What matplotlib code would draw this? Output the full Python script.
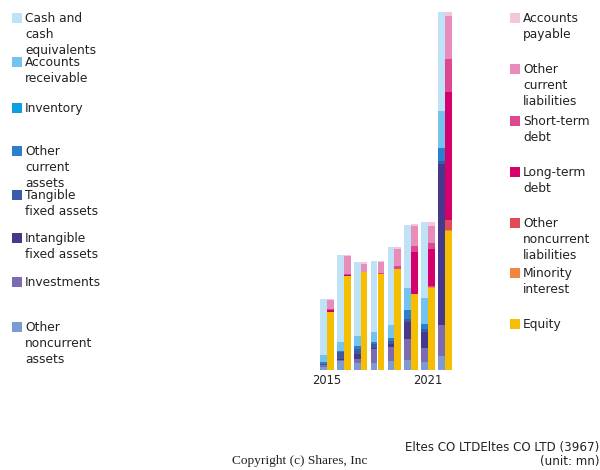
import matplotlib
matplotlib.use("Agg")
import matplotlib.pyplot as plt
from matplotlib.patches import Rectangle
import numpy as np

years = [2015, 2016, 2017, 2018, 2019, 2020, 2021, 2022]
tick_years = [2015, 2021]

# Assets (stack from bottom: other noncurrent -> cash)
other_noncurrent_assets = [3.5, 9.0, 7.5, 7.3, 9.0, 10.0, 8.3, 14.0]
investments = [1.5, 1.0, 3.5, 13.3, 14.0, 21.0, 13.4, 31.0]
intangible_fixed = [0.5, 1.5, 5.0, 1.7, 3.3, 17.3, 16.6, 161.3]
tangible_fixed = [1.0, 6.5, 5.0, 3.3, 2.4, 2.7, 2.4, 2.7]
other_current_assets = [2.0, 1.5, 3.5, 2.3, 3.3, 9.0, 5.3, 13.3]
inventory = [0, 0, 0, 0, 0, 0, 0, 0]
accounts_receivable = [6.5, 8.5, 9.5, 10.0, 12.7, 21.7, 25.7, 36.7]
cash = [56.0, 87.0, 74.0, 71.0, 78.3, 63.6, 76.0, 99.0]

# Liabilities & equity (stack from bottom: equity -> accounts payable)
equity = [58.5, 94.0, 98.0, 95.7, 101.3, 76.0, 82.5, 139.0]
minority_interest = [0, 0, 0, 0, 0, 0, 1.0, 1.0]
other_noncurrent_liab = [0, 0, 0, 0, 0, 0.3, 0.5, 10.0]
long_term_debt = [1.5, 1.5, 0, 0, 0, 41.3, 37.3, 128.3]
short_term_debt = [1.0, 1.0, 0.5, 1.6, 2.7, 6.7, 6.0, 32.7]
other_current_liab = [9.0, 17.5, 8.0, 10.7, 16.7, 19.3, 16.7, 42.7]
accounts_payable = [1.0, 1.0, 1.5, 1.0, 2.3, 2.0, 3.7, 4.3]

asset_series = [
    ("Other\nnoncurrent\nassets", other_noncurrent_assets, "#7b9bd3"),
    ("Investments", investments, "#7d6bb0"),
    ("Intangible\nfixed assets", intangible_fixed, "#46388a"),
    ("Tangible\nfixed assets", tangible_fixed, "#3b5ba8"),
    ("Other\ncurrent\nassets", other_current_assets, "#2b7fcb"),
    ("Inventory", inventory, "#0ca0e0"),
    ("Accounts\nreceivable", accounts_receivable, "#74c2ef"),
    ("Cash and\ncash\nequivalents", cash, "#c0e2f6"),
]
liab_series = [
    ("Equity", equity, "#f5be00"),
    ("Minority\ninterest", minority_interest, "#ee8840"),
    ("Other\nnoncurrent\nliabilities", other_noncurrent_liab, "#e04c56"),
    ("Long-term\ndebt", long_term_debt, "#d5006e"),
    ("Short-term\ndebt", short_term_debt, "#dd4890"),
    ("Other\ncurrent\nliabilities", other_current_liab, "#e88cbc"),
    ("Accounts\npayable", accounts_payable, "#f4c6dc"),
]

W, H = 600, 470
fig = plt.figure(figsize=(W / 100, H / 100), dpi=100)

def fx(px):
    return px / W

def fy(py):
    return 1 - py / H

# axes in pixel terms: left 310, right 460, top 10, bottom 370
ax = fig.add_axes([fx(310), fy(370), fx(150), 360 / H])
px_per_year = (428 - 327) / 6.0
ax.set_xlim(2015 + (310 - 327) / px_per_year, 2015 + (460 - 327) / px_per_year)
ax.set_ylim(0, 360)

x = np.array(years, dtype=float)
bw = 0.4
bottom = np.zeros(len(years))
for name, vals, col in asset_series:
    v = np.array(vals, dtype=float)
    ax.bar(x - bw / 2, v, bw, bottom=bottom, color=col, linewidth=0)
    bottom += v
bottom = np.zeros(len(years))
for name, vals, col in liab_series:
    v = np.array(vals, dtype=float)
    ax.bar(x + bw / 2, v, bw, bottom=bottom, color=col, linewidth=0)
    bottom += v

for s in ax.spines.values():
    s.set_visible(False)
ax.set_yticks([])
ax.set_xticks(tick_years)
ax.set_xticklabels([str(t) for t in tick_years], fontsize=8.3, color="#222222")
ax.tick_params(axis="x", length=0, pad=3)
ax.patch.set_alpha(0)

LFS = 8.8
LSP = 1.32

# Legends
left_tops = [13, 57, 103, 146, 190, 233, 277, 322]
left_items = list(reversed(asset_series))
for (name, vals, col), top in zip(left_items, left_tops):
    fig.patches.append(Rectangle((fx(12), fy(top + 10)), fx(10), 10 / H,
                                 transform=fig.transFigure, color=col, linewidth=0))
    fig.text(fx(25), fy(top - 1), name, fontsize=LFS, va="top", ha="left",
             color="#222222", linespacing=LSP)

right_tops = [13, 64, 116, 167, 218, 268, 319]
right_items = list(reversed(liab_series))
for (name, vals, col), top in zip(right_items, right_tops):
    fig.patches.append(Rectangle((fx(510), fy(top + 10)), fx(10), 10 / H,
                                 transform=fig.transFigure, color=col, linewidth=0))
    fig.text(fx(523), fy(top - 1), name, fontsize=LFS, va="top", ha="left",
             color="#222222", linespacing=LSP)

fig.text(fx(300), fy(461), "Copyright (c) Shares, Inc", fontsize=9.6,
         family="Liberation Serif", ha="center", va="center", color="#222222")
fig.text(fx(599), fy(448), "Eltes CO LTDEltes CO LTD (3967)", fontsize=8.6,
         ha="right", va="center", color="#222222")
fig.text(fx(599), fy(461), "(unit: mn)", fontsize=8.6,
         ha="right", va="center", color="#222222")

fig.savefig("out.png", dpi=100)
